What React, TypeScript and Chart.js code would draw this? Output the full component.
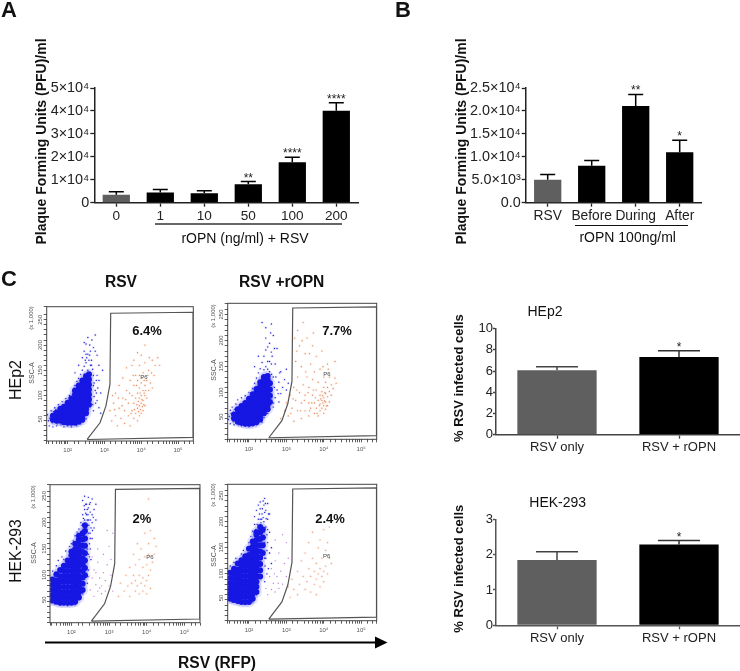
import React, { useEffect, useRef } from "react";
import { Chart, registerables } from "chart.js";

Chart.register(...registerables);

const FONT = '"Liberation Sans", Arial, sans-serif';

// ---------- Bar panel data ----------
const doseLabels = ["0", "1", "10", "50", "100", "200"];
const doseValues = [3500, 4500, 4100, 8000, 17600, 40100];
const doseErrorTops = [4800, 5700, 5200, 9200, 19800, 43600];
const doseStars = ["", "", "", "**", "****", "****"];
const doseTicks = ["0", "1×10⁴", "2×10⁴", "3×10⁴", "4×10⁴", "5×10⁴"];

const timingLabels = ["RSV", "Before", "During", "After"];
const timingValues = [5000, 8040, 21080, 10970];
const timingErrorTops = [6160, 9200, 23600, 13590];
const timingStars = ["", "", "**", "*"];
const timingTicks = ["0.0", "5.0×10³", "1.0×10⁴", "1.5×10⁴", "2.0×10⁴", "2.5×10⁴"];

const infectedLabels = ["RSV only", "RSV + rOPN"];
const hep2Values = [6.08, 7.33];
const hep2ErrorTops = [6.4, 7.92];
const hek293Values = [1.85, 2.29];
const hek293ErrorTops = [2.08, 2.4];
const infectedStars = ["", "*"];

// ---------- Flow plot data: x in decades of RFP, y in SSC-A (x 1,000) ----------
const gateOutline = [[2.53, 3], [2.88, 36], [3.04, 69], [3.15, 112], [3.17, 253], [5.41, 255], [5.41, 7], [2.53, 3]];

const p1Core = [
  [1.6, [42, 50]], [1.7, [40, 48, 56]], [1.8, [40, 48, 56, 64]], [1.9, [37, 44, 52, 60, 68]],
  [2.0, [36, 44, 52, 60, 68, 76]], [2.1, [36, 44, 52, 60, 68, 76, 84]],
  [2.2, [36, 44, 52, 60, 68, 76, 84, 92, 100]], [2.3, [38, 46, 54, 62, 70, 78, 86, 94, 102, 110]],
  [2.4, [42, 50, 58, 66, 74, 82, 90, 98, 106, 114, 120]], [2.5, [55, 63, 71, 79, 87, 95, 103, 111, 119, 128]],
  [2.58, [72, 82, 92, 102, 112, 122, 132]],
];
const p1Sparse = [
  [1.5, 30], [1.45, 52], [1.55, 60], [1.65, 66], [1.7, 30], [1.75, 72], [1.85, 78], [1.9, 28], [1.95, 84], [2.05, 90],
  [2.1, 28], [2.15, 98], [2.2, 110], [2.25, 30], [2.25, 118], [2.3, 124], [2.35, 132], [2.35, 34], [2.4, 140], [2.45, 148],
  [2.5, 44], [2.5, 155], [2.55, 58], [2.55, 140], [2.6, 170], [2.68, 72], [2.7, 110], [2.65, 150], [2.72, 88], [2.7, 60],
  [2.7, 130], [2.75, 100], [2.7, 185], [2.75, 178], [2.8, 170], [2.8, 80], [2.85, 120], [2.85, 66], [2.9, 55], [2.4, 165],
  [2.45, 178], [2.5, 192], [2.55, 205], [2.6, 190], [2.75, 210], [2.85, 150], [2.3, 150], [2.2, 135], [2.9, 95], [2.95, 140],
  [2.45, 132], [2.62, 150], [2.78, 95], [2.52, 165], [2.48, 160], [2.76, 75], [2.72, 115], [2.35, 40], [2.42, 38], [1.6, 28],
  [1.48, 40], [1.52, 45], [1.58, 36], [1.62, 58], [1.68, 62], [1.72, 34], [1.78, 66], [1.82, 32], [2.0, 30], [2.65, 160],
  [2.68, 142], [2.58, 160], [2.62, 178], [2.55, 172], [2.5, 172], [2.45, 195], [2.66, 200], [2.8, 130], [2.82, 105], [2.78, 120],
];
const p1Orange = [
  [3.15, 60], [3.2, 40], [3.25, 75], [3.3, 50], [3.3, 95], [3.35, 30], [3.4, 65], [3.4, 110], [3.45, 45], [3.5, 85],
  [3.5, 125], [3.55, 35], [3.55, 60], [3.6, 100], [3.6, 145], [3.65, 50], [3.65, 75], [3.7, 120], [3.7, 30], [3.75, 60],
  [3.75, 90], [3.8, 45], [3.8, 75], [3.8, 110], [3.8, 160], [3.85, 55], [3.85, 85], [3.85, 130], [3.9, 40], [3.9, 65],
  [3.9, 95], [3.9, 120], [3.95, 50], [3.95, 70], [3.95, 85], [3.95, 105], [3.95, 150], [4.0, 55], [4.0, 75], [4.0, 90],
  [4.0, 115], [4.0, 170], [4.05, 60], [4.05, 80], [4.05, 100], [4.05, 135], [4.1, 70], [4.1, 90], [4.1, 110], [4.1, 155],
  [4.15, 85], [4.15, 120], [4.2, 100], [4.2, 140], [4.25, 115], [4.3, 160], [4.35, 130], [4.45, 165], [4.5, 150], [4.1, 190],
  [3.92, 78], [3.98, 62], [4.02, 82], [4.07, 72], [4.03, 68], [3.97, 95], [4.08, 95], [3.88, 72], [3.93, 58], [4.12, 100],
  [3.22, 90], [3.28, 62], [3.38, 85], [3.48, 70], [3.58, 82], [3.68, 95], [3.72, 55], [3.78, 130], [3.82, 62], [3.87, 110],
  [3.95, 130], [4.02, 125], [4.08, 120], [4.18, 130], [4.22, 165], [4.28, 135], [3.75, 150], [3.9, 175], [4.3, 105], [4.38, 150],
];

const p2Core = [
  [1.6, [40, 48]], [1.7, [34, 42, 50, 58]], [1.8, [32, 40, 48, 56, 64]], [1.9, [30, 38, 46, 54, 62, 70]],
  [2.0, [30, 38, 46, 54, 62, 70, 78]], [2.1, [31, 39, 47, 55, 63, 71, 79, 87]],
  [2.2, [33, 41, 49, 57, 65, 73, 81, 89, 97]], [2.3, [38, 46, 54, 62, 70, 78, 86, 94, 102, 110]],
  [2.4, [50, 58, 66, 74, 82, 90, 98, 106, 114, 120]], [2.5, [58, 66, 74, 82, 90, 98, 106, 114, 122]],
  [2.56, [72, 84, 96, 108]],
];
const p2Sparse = [
  [1.43, 48], [1.45, 38], [1.5, 56], [1.5, 30], [1.55, 62], [1.6, 28], [1.65, 68], [1.7, 76], [1.8, 26], [1.8, 80],
  [1.9, 84], [2.0, 24], [2.0, 90], [2.1, 26], [2.1, 98], [2.15, 108], [2.2, 28], [2.2, 118], [2.25, 128], [2.3, 36],
  [2.3, 136], [2.35, 148], [2.4, 42], [2.4, 134], [2.4, 160], [2.45, 172], [2.5, 50], [2.6, 125], [2.5, 150], [2.55, 60],
  [2.55, 130], [2.55, 185], [2.65, 70], [2.68, 100], [2.6, 168], [2.65, 62], [2.65, 120], [2.65, 200], [2.7, 80], [2.7, 145],
  [2.75, 95], [2.75, 175], [2.8, 72], [2.8, 110], [2.85, 130], [2.85, 88], [2.9, 100], [2.95, 115], [3.0, 95], [3.0, 135],
  [2.45, 215], [2.35, 225], [2.6, 222], [2.25, 160], [2.15, 140], [3.05, 108],
  [1.47, 44], [1.52, 50], [1.58, 34], [1.62, 58], [1.72, 28], [1.55, 42], [1.9, 26], [2.35, 33], [2.45, 140], [2.5, 135],
  [2.55, 150], [2.6, 145], [2.62, 160], [2.5, 178], [2.45, 195], [2.58, 205], [2.72, 120], [2.78, 88], [2.82, 128], [2.68, 175],
];
const p2Orange = [
  [2.85, 40], [2.95, 55], [3.0, 70], [3.05, 45], [3.1, 85], [3.15, 60], [3.2, 100], [3.2, 35], [3.25, 75], [3.25, 150],
  [3.3, 55], [3.3, 120], [3.3, 210], [3.35, 90], [3.35, 180], [3.4, 40], [3.4, 70], [3.4, 140], [3.45, 105], [3.45, 225],
  [3.5, 55], [3.5, 85], [3.5, 165], [3.55, 120], [3.55, 195], [3.6, 45], [3.6, 70], [3.6, 100], [3.65, 145], [3.65, 60],
  [3.7, 85], [3.7, 115], [3.7, 180], [3.75, 50], [3.75, 70], [3.75, 130], [3.8, 60], [3.8, 95], [3.8, 160], [3.85, 45],
  [3.85, 75], [3.85, 110], [3.9, 55], [3.9, 68], [3.9, 85], [3.9, 135], [3.95, 60], [3.95, 75], [3.95, 92], [3.95, 170],
  [4.0, 50], [4.0, 65], [4.0, 80], [4.0, 100], [4.0, 120], [4.05, 58], [4.05, 72], [4.05, 88], [4.05, 110], [4.1, 65],
  [4.1, 82], [4.1, 100], [4.1, 145], [4.15, 72], [4.15, 92], [4.15, 120], [4.2, 85], [4.2, 105], [4.25, 98], [4.3, 118],
  [4.3, 150], [4.33, 108], [3.98, 70], [4.02, 74], [3.92, 78], [4.07, 64], [4.03, 90], [3.97, 84],
  [3.12, 50], [3.18, 78], [3.28, 95], [3.38, 55], [3.48, 75], [3.58, 90], [3.62, 55], [3.68, 70], [3.72, 95], [3.78, 80],
  [3.82, 50], [3.88, 65], [3.22, 195], [3.28, 170], [3.42, 190], [3.52, 130], [3.62, 165], [3.72, 205], [3.98, 140], [4.12, 135],
];

const p3Core = [
  [1.5, [42, 52, 62, 72, 82]], [1.6, [40, 50, 60, 70, 80, 92]], [1.7, [38, 48, 58, 68, 78, 88, 100]],
  [1.8, [38, 48, 58, 68, 78, 88, 98, 108]], [1.9, [38, 48, 58, 68, 78, 88, 98, 108, 118]],
  [2.0, [38, 48, 58, 68, 78, 88, 98, 108, 118, 128, 135]], [2.1, [40, 50, 60, 70, 80, 90, 100, 110, 120, 130, 140, 150]],
  [2.2, [48, 58, 68, 78, 88, 98, 108, 118, 128, 138, 148, 158, 165]], [2.3, [62, 74, 86, 98, 110, 122, 134, 146, 158, 170]],
  [2.36, [90, 104, 118, 132, 146, 160, 174, 185]],
];
const p3Sparse = [
  [1.45, 40], [1.45, 85], [1.5, 98], [1.55, 36], [1.6, 108], [1.65, 118], [1.7, 34], [1.75, 125], [1.8, 120], [1.85, 136],
  [1.9, 32], [1.95, 145], [2.0, 150], [2.05, 155], [2.1, 34], [2.1, 165], [2.15, 172], [2.2, 44], [2.2, 178], [2.25, 60],
  [2.25, 190], [2.3, 205], [2.3, 55], [2.35, 195], [2.35, 215], [2.4, 205], [2.4, 225], [2.45, 130], [2.45, 195], [2.45, 218],
  [2.45, 238], [2.5, 170], [2.5, 210], [2.5, 228], [2.55, 205], [2.55, 160], [2.55, 235], [2.6, 180], [2.6, 215], [2.65, 225],
  [2.65, 195], [2.3, 232], [2.35, 240], [2.42, 160], [2.48, 150], [2.52, 120], [2.45, 100], [2.42, 75], [2.44, 88], [2.5, 140],
  [2.28, 185], [2.32, 198], [2.38, 208], [2.42, 195], [2.46, 185], [2.5, 195], [2.38, 225], [2.44, 205], [2.34, 222], [2.42, 215],
  [2.48, 225], [2.52, 180], [2.55, 190], [2.58, 200], [2.4, 180], [2.46, 170], [2.5, 160], [2.42, 140], [2.48, 125], [2.56, 175],
];
const p3Violet = [
  [2.5, 62], [2.55, 85], [2.6, 50], [2.6, 100], [2.65, 72], [2.7, 60], [2.7, 115], [2.75, 85], [2.8, 55], [2.8, 70],
  [2.85, 95], [2.85, 130], [2.9, 60], [2.9, 80], [2.95, 110], [3.0, 70], [3.0, 145], [3.05, 90], [3.1, 60], [3.1, 170],
  [2.55, 125], [2.7, 140], [2.95, 175], [3.05, 120], [2.75, 66], [2.65, 95],
];
const p3Orange = [
  [3.25, 50], [3.3, 75], [3.4, 60], [3.45, 90], [3.5, 70], [3.55, 50], [3.55, 105], [3.6, 75], [3.65, 90], [3.65, 130],
  [3.7, 60], [3.7, 80], [3.7, 110], [3.75, 150], [3.75, 70], [3.8, 55], [3.8, 90], [3.8, 120], [3.85, 75], [3.85, 140],
  [3.9, 60], [3.9, 85], [3.9, 105], [3.95, 70], [3.95, 125], [3.95, 170], [4.0, 55], [4.0, 80], [4.0, 110], [4.05, 90],
  [4.05, 130], [4.05, 150], [4.1, 65], [4.1, 100], [4.1, 175], [4.15, 115], [4.2, 130], [4.2, 160], [4.25, 145], [4.05, 235],
];

const p4Core = [
  [1.5, [42, 52, 62, 72, 82, 92]], [1.6, [40, 50, 60, 70, 80, 90, 100]], [1.7, [38, 48, 58, 68, 78, 88, 98, 110]],
  [1.8, [36, 46, 56, 66, 76, 86, 96, 106, 116]], [1.9, [36, 46, 56, 66, 76, 86, 96, 106, 116, 124]],
  [2.0, [36, 46, 56, 66, 76, 86, 96, 106, 116, 126, 138]], [2.1, [42, 52, 62, 72, 82, 92, 102, 112, 122, 132, 142, 152]],
  [2.2, [55, 65, 75, 85, 95, 105, 115, 125, 135, 145, 155, 165, 170]], [2.3, [85, 97, 109, 121, 133, 145, 157, 170, 180]],
  [2.37, [130, 145, 160, 175]],
];
const p4Sparse = [
  [1.45, 40], [1.45, 95], [1.5, 105], [1.55, 36], [1.6, 112], [1.65, 120], [1.7, 34], [1.75, 118], [1.8, 128], [1.85, 135],
  [1.9, 32], [1.95, 140], [2.0, 150], [2.05, 162], [2.1, 36], [2.1, 172], [2.15, 185], [2.2, 50], [2.15, 200], [2.25, 75],
  [2.2, 212], [2.3, 195], [2.25, 222], [2.35, 205], [2.3, 228], [2.4, 190], [2.4, 222], [2.42, 120], [2.45, 180], [2.45, 212],
  [2.42, 235], [2.5, 150], [2.5, 195], [2.5, 225], [2.55, 170], [2.55, 130], [2.55, 205], [2.6, 140], [2.6, 110], [2.48, 90],
  [2.42, 75], [2.45, 120], [2.43, 105], [2.52, 100],
  [2.22, 185], [2.28, 205], [2.32, 188], [2.38, 198], [2.42, 208], [2.46, 196], [2.36, 215], [2.3, 215], [2.5, 175], [2.52, 205],
  [2.44, 160], [2.48, 165], [2.4, 170], [2.42, 150], [2.48, 135], [2.25, 195], [2.18, 175], [2.34, 195], [2.44, 225], [2.38, 230],
];
const p4Violet = [
  [2.45, 62], [2.5, 50], [2.55, 85], [2.6, 60], [2.6, 100], [2.65, 72], [2.7, 55], [2.7, 115], [2.75, 85], [2.8, 62],
  [2.8, 130], [2.85, 95], [2.9, 70], [2.9, 165], [2.95, 110], [3.0, 85], [3.0, 150], [3.05, 120], [2.7, 155], [2.55, 130],
  [2.78, 72], [2.68, 90],
];
const p4Orange = [
  [3.05, 65], [3.1, 45], [3.15, 80], [3.2, 60], [3.3, 50], [3.3, 95], [3.35, 70], [3.4, 115], [3.45, 85], [3.5, 60],
  [3.5, 130], [3.55, 75], [3.6, 100], [3.6, 150], [3.65, 55], [3.65, 85], [3.7, 120], [3.7, 170], [3.75, 70], [3.75, 95],
  [3.8, 50], [3.8, 80], [3.8, 110], [3.85, 90], [3.85, 140], [3.9, 65], [3.9, 100], [3.9, 155], [3.95, 85], [3.95, 120],
  [4.0, 75], [4.0, 95], [4.0, 175], [4.05, 105], [4.05, 135], [4.1, 90], [4.1, 150], [4.15, 120], [4.15, 180], [4.2, 110],
];

// ---------- Plugins ----------
const errorBarsPlugin = {
  id: "errorBars",
  afterDatasetsDraw(chart: any, _args: any, opts: any) {
    if (!opts || !opts.tops) return;
    const ctx = chart.ctx;
    const meta = chart.getDatasetMeta(0);
    const y = chart.scales.y;
    ctx.save();
    meta.data.forEach((bar: any, i: number) => {
      const top = y.getPixelForValue(opts.tops[i]);
      ctx.strokeStyle = opts.colors ? opts.colors[i] : "#000";
      ctx.lineWidth = opts.width;
      ctx.beginPath();
      ctx.moveTo(bar.x, y.getPixelForValue(chart.data.datasets[0].data[i]));
      ctx.lineTo(bar.x, top);
      ctx.moveTo(bar.x - opts.cap, top);
      ctx.lineTo(bar.x + opts.cap, top);
      ctx.stroke();
      if (opts.stars[i]) {
        ctx.fillStyle = "#222";
        ctx.font = `12px ${FONT}`;
        ctx.textAlign = "center";
        ctx.textBaseline = "alphabetic";
        ctx.fillText(opts.stars[i], bar.x, top);
      }
    });
    ctx.restore();
  },
};

const framePlugin = {
  id: "frame",
  afterDraw(chart: any, _args: any, opts: any) {
    if (!opts.show) return;
    const { left, top, width, height } = chart.chartArea;
    const ctx = chart.ctx;
    ctx.save();
    ctx.strokeStyle = "#444";
    ctx.lineWidth = 1;
    ctx.strokeRect(left, top, width, height);
    ctx.restore();
  },
};

// ---------- Chart configs ----------
function barConfig(p: any) {
  const tickLen = p.tickLen ?? 4;
  const yPad = p.yPad ?? 1;
  return {
    type: "bar",
    data: {
      labels: p.labels,
      datasets: [{
        data: p.values,
        backgroundColor: p.colors,
        barPercentage: p.barWidth,
        categoryPercentage: 1,
      }],
    },
    options: {
      animation: false,
      responsive: false,
      layout: { padding: { left: p.titleLeft, top: p.top, right: 740 - p.right, bottom: 671 - p.bottom - 30 } },
      plugins: {
        legend: { display: false },
        tooltip: { enabled: false },
        errorBars: { tops: p.tops, stars: p.stars, cap: p.cap, width: 1.5, colors: p.errorColors },
        frame: { show: false },
      },
      scales: {
        x: {
          afterFit: (s: any) => { s.height = 30; },
          grid: { offset: false, drawOnChartArea: false, tickLength: 4, tickColor: p.axisColor, tickWidth: 1.3 },
          border: { color: p.axisColor, width: 1.5 },
          ticks: { color: "#222", padding: 1, maxRotation: 0, autoSkip: false, font: { family: FONT, size: p.xFont } },
        },
        y: {
          min: 0,
          max: p.max,
          afterFit: (s: any) => { s.width = p.left - p.titleLeft; },
          title: {
            display: true,
            text: p.yTitle,
            color: "#111",
            padding: 0,
            font: { family: FONT, size: p.yTitleSize, weight: "bold" },
          },
          afterBuildTicks: (s: any) => { s.ticks = p.tickValues.map((value: number) => ({ value })); },
          grid: { drawOnChartArea: false, tickLength: tickLen, tickColor: p.axisColor, tickWidth: 1.3 },
          border: { color: p.axisColor, width: 1.5 },
          ticks: {
            color: "#222",
            padding: yPad,
            autoSkip: false,
            font: { family: FONT, size: p.yFont },
            callback: (_v: any, i: number) => p.tickLabels[i],
          },
        },
      },
    },
  };
}

function points(list: number[][]) {
  return list.map(([x, y]) => ({ x: 10 ** x, y }));
}
function columns(list: any[]) {
  return list.flatMap(([x, ys]: any) => ys.map((y: number) => ({ x: 10 ** x, y })));
}
const decadeLabels: Record<number, string> = { 100: "10²", 1000: "10³", 10000: "10⁴", 100000: "10⁵" };

function flowConfig(p: any) {
  const dot = (data: any[], color: string, r: number) => ({
    type: "scatter", data, backgroundColor: color, borderColor: color, pointRadius: r, pointBorderWidth: 0,
  });
  const datasets: any[] = [
    { type: "scatter", data: points(gateOutline), showLine: true, borderColor: "#555", borderWidth: 1.2, pointRadius: 0, tension: 0, fill: false },
    dot(columns(p.core), "#1717e4", 3),
    dot(points(p.sparse), "#2222dd", 0.7),
    dot(points(p.orange), p.orangeColor, 0.6),
  ];
  if (p.violet) datasets.push(dot(points(p.violet), "#c080e0", 0.7));
  datasets.push(dot(columns(p.core), "rgba(30,30,230,0.13)", 5.5));
  datasets.push(dot(points(p.sparse), "rgba(40,40,230,0.08)", 1.6));
  datasets.push(dot(points(p.orange), "rgba(235,140,90,0.1)", 1.6));
  return {
    type: "scatter",
    data: { datasets },
    options: {
      animation: false,
      responsive: false,
      layout: { padding: { left: p.left - 14, top: p.top, right: 740 - p.right, bottom: 671 - p.bottom - 14 } },
      plugins: { legend: { display: false }, tooltip: { enabled: false }, frame: { show: true } },
      scales: {
        x: {
          type: "logarithmic",
          min: 27,
          max: 260000,
          afterFit: (s: any) => { s.height = 14; },
          grid: { drawOnChartArea: false, tickLength: 3, tickColor: "#333", tickWidth: 0.8 },
          border: { display: false },
          ticks: {
            color: "#555",
            padding: 3,
            autoSkip: false,
            maxRotation: 0,
            font: { family: FONT, size: 6 },
            callback: (v: number) => decadeLabels[Math.round(v)] || "",
          },
        },
        y: {
          min: 0,
          max: p.yMax,
          afterFit: (s: any) => { s.width = 14; },
          grid: { drawOnChartArea: false, tickLength: 3, tickColor: "#333", tickWidth: 0.8 },
          border: { display: false },
          ticks: {
            stepSize: 10,
            color: "#555",
            padding: 3,
            autoSkip: false,
            minRotation: 90,
            maxRotation: 90,
            font: { family: FONT, size: 6 },
            callback: (v: number) => (v > 0 && v % 50 === 0 ? String(v) : ""),
          },
        },
      },
    },
  };
}

const grey = "#5f5f5f";
const configs = [
  barConfig({
    labels: doseLabels, values: doseValues, tops: doseErrorTops, stars: doseStars,
    colors: [grey, "#000", "#000", "#000", "#000", "#000"], max: 50000,
    tickValues: [0, 10000, 20000, 30000, 40000, 50000], tickLabels: doseTicks,
    yTitle: "  Plaque Forming Units (PFU)/ml", yTitleSize: 14,
    titleLeft: 33.6, left: 94.3, right: 358.3, top: 88, bottom: 202.7,
    barWidth: 0.62, cap: 7.5, axisColor: "#222", xFont: 13.6, yFont: 14.4,
  }),
  barConfig({
    labels: timingLabels, values: timingValues, tops: timingErrorTops, stars: timingStars,
    colors: [grey, "#000", "#000", "#000"], max: 25000,
    tickValues: [0, 5000, 10000, 15000, 20000, 25000], tickLabels: timingTicks,
    yTitle: "  Plaque Forming Units (PFU)/ml", yTitleSize: 14,
    titleLeft: 453.3, left: 525.7, right: 701.7, top: 88, bottom: 202.7,
    barWidth: 0.62, cap: 7.5, axisColor: "#222", xFont: 13.8, yFont: 14.4,
  }),
  barConfig({
    labels: infectedLabels, values: hep2Values, tops: hep2ErrorTops, stars: infectedStars,
    colors: [grey, "#000"], errorColors: ["#444", "#333"], max: 10,
    tickValues: [0, 2, 4, 6, 8, 10], tickLabels: ["0", "2", "4", "6", "8", "10"],
    yTitle: "  % RSV infected cells", yTitleSize: 13,
    titleLeft: 451.4, left: 496, right: 740, top: 328.7, bottom: 434.7,
    barWidth: 0.65, cap: 21, axisColor: "#444", xFont: 13, yFont: 13, tickLen: 3, yPad: 0,
  }),
  barConfig({
    labels: infectedLabels, values: hek293Values, tops: hek293ErrorTops, stars: infectedStars,
    colors: [grey, "#000"], errorColors: ["#444", "#333"], max: 3,
    tickValues: [0, 1, 2, 3], tickLabels: ["0", "1", "2", "3"],
    yTitle: "  % RSV infected cells", yTitleSize: 13,
    titleLeft: 451.4, left: 496, right: 740, top: 519.3, bottom: 625.3,
    barWidth: 0.65, cap: 21, axisColor: "#555", xFont: 13, yFont: 13, tickLen: 3, yPad: 0,
  }),
  flowConfig({ core: p1Core, sparse: p1Sparse, orange: p1Orange, orangeColor: "#e67a45", left: 46.7, right: 193.3, top: 306.7, bottom: 441, yMax: 266 }),
  flowConfig({ core: p2Core, sparse: p2Sparse, orange: p2Orange, orangeColor: "#e67a45", left: 227.7, right: 376.7, top: 303.3, bottom: 439.3, yMax: 262 }),
  flowConfig({ core: p3Core, sparse: p3Sparse, orange: p3Orange, orangeColor: "#ee9a70", violet: p3Violet, left: 50, right: 200, top: 484.7, bottom: 622.7, yMax: 262 }),
  flowConfig({ core: p4Core, sparse: p4Sparse, orange: p4Orange, orangeColor: "#ee9a70", violet: p4Violet, left: 227.7, right: 376.7, top: 484.3, bottom: 620.7, yMax: 262 }),
];

// ---------- DOM text ----------
function Txt({ x, y, size, bold, rot, color, children }: any) {
  return (
    <div style={{
      position: "absolute", left: x, top: y, whiteSpace: "nowrap",
      transform: `translate(-50%,-50%)${rot ? ` rotate(${rot}deg)` : ""}`,
      font: `${bold ? "bold " : ""}${size}px ${FONT}`, color: color || "#111", lineHeight: 1,
    }}>{children}</div>
  );
}

function ChartCanvas({ config }: any) {
  const ref = useRef<HTMLCanvasElement>(null);
  useEffect(() => {
    const chart = new Chart(ref.current as any, { ...config, plugins: [errorBarsPlugin, framePlugin] });
    return () => chart.destroy();
  }, [config]);
  return <canvas ref={ref} width={740} height={671} style={{ position: "absolute", left: 0, top: 0, width: 740, height: 671, pointerEvents: "none" }} />;
}

export default function App() {
  return (
    <div style={{ position: "fixed", left: 0, top: 0, width: 740, height: 671, background: "#fff", overflow: "hidden" }}>
      {configs.map((c, i) => <ChartCanvas key={i} config={c} />)}

      <Txt x={9} y={10} size={22} bold>A</Txt>
      <Txt x={403} y={10} size={22} bold>B</Txt>
      <Txt x={9} y={279} size={22} bold>C</Txt>

      <div style={{ position: "absolute", left: 155, top: 223, width: 187, height: 2, background: "#666" }} />
      <Txt x={245} y={238} size={14}>rOPN (ng/ml) + RSV</Txt>
      <div style={{ position: "absolute", left: 575, top: 224.5, width: 113, height: 1, background: "#111" }} />
      <Txt x={627.7} y={236.7} size={14}>rOPN 100ng/ml</Txt>

      <Txt x={121} y={281.7} size={15.6} bold>RSV</Txt>
      <Txt x={281.7} y={281.7} size={15.6} bold>RSV +rOPN</Txt>
      <Txt x={16} y={380} size={16} rot={-90}>HEp2</Txt>
      <Txt x={16} y={551} size={15.6} rot={-90}>HEK-293</Txt>

      <Txt x={147} y={330} size={13} bold>6.4%</Txt>
      <Txt x={337} y={330} size={13} bold>7.7%</Txt>
      <Txt x={142} y={517.7} size={13} bold>2%</Txt>
      <Txt x={330} y={517.7} size={13} bold>2.4%</Txt>

      <Txt x={144} y={376.7} size={6} color="#444">P6</Txt>
      <Txt x={327} y={374} size={6} color="#444">P6</Txt>
      <Txt x={150} y={557} size={6} color="#444">P6</Txt>
      <Txt x={326.7} y={555.7} size={6} color="#444">P6</Txt>

      <Txt x={30.7} y={373} size={7} rot={-90} color="#555">SSC-A</Txt>
      <Txt x={30.7} y={318} size={6} rot={-90} color="#555">(x 1,000)</Txt>
      <Txt x={212.7} y={370} size={7} rot={-90} color="#555">SSC-A</Txt>
      <Txt x={212.7} y={315.7} size={6} rot={-90} color="#555">(x 1,000)</Txt>
      <Txt x={33} y={553} size={7} rot={-90} color="#555">SSC-A</Txt>
      <Txt x={33} y={497} size={6} rot={-90} color="#555">(x 1,000)</Txt>
      <Txt x={212.7} y={556} size={7} rot={-90} color="#555">SSC-A</Txt>
      <Txt x={212.7} y={495} size={6} rot={-90} color="#555">(x 1,000)</Txt>

      <svg width={740} height={671} style={{ position: "absolute", left: 0, top: 0 }}>
        <line x1={45} y1={642.5} x2={376} y2={642.5} stroke="#000" strokeWidth={2} />
        <polygon points="375,636.5 387.5,642.5 375,648.5" fill="#000" />
      </svg>
      <Txt x={217} y={663} size={15.6} bold>RSV (RFP)</Txt>

      <Txt x={545} y={311} size={14}>HEp2</Txt>
      <Txt x={557.7} y={502.3} size={14}>HEK-293</Txt>
    </div>
  );
}
